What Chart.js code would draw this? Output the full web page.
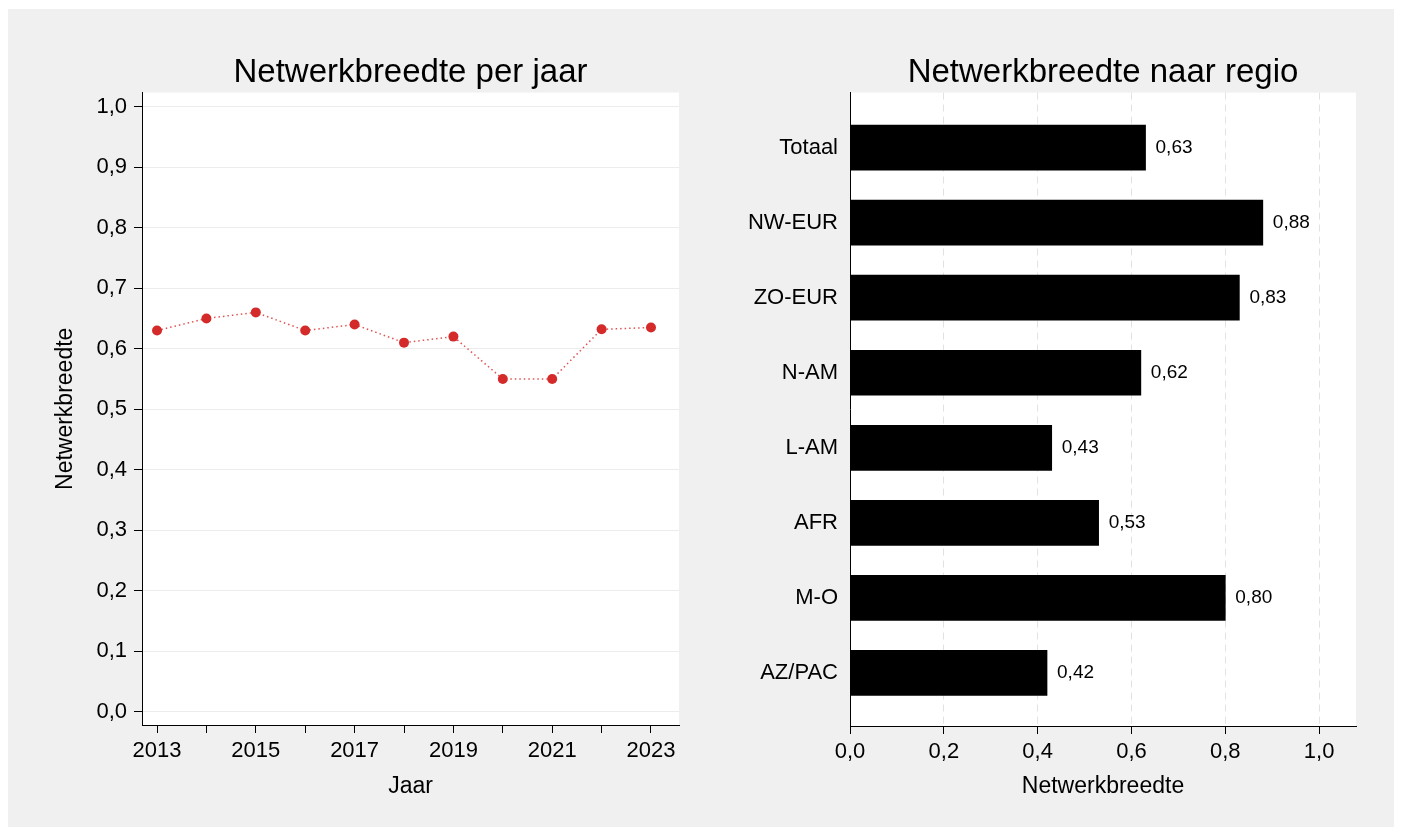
<!DOCTYPE html>
<html>
<head>
<meta charset="utf-8">
<script src="https://cdn.jsdelivr.net/npm/chart.js@4.4.1/dist/chart.umd.min.js"></script>
<style>
  body { margin: 0; background: #fff; }
  #paneel { position: absolute; left: 8px; top: 9px; width: 1386px; height: 818px; background: #f0f0f0; }
  canvas { position: absolute; top: 0; }
</style>
</head>
<body>
<div id="paneel">
  <canvas id="perJaar" width="690" height="818" style="left:0"></canvas>
  <canvas id="perRegio" width="696" height="818" style="left:690px"></canvas>
</div>
<script>
const jaren = [2013, 2014, 2015, 2016, 2017, 2018, 2019, 2020, 2021, 2022, 2023];
const breedtePerJaar = [0.63, 0.65, 0.66, 0.63, 0.64, 0.61, 0.62, 0.55, 0.55, 0.632, 0.635];
const yTicksJaar = [0, 0.1, 0.2, 0.3, 0.4, 0.5, 0.6, 0.7, 0.8, 0.9, 1.0];

const regios = ['Totaal', 'NW-EUR', 'ZO-EUR', 'N-AM', 'L-AM', 'AFR', 'M-O', 'AZ/PAC'];
const breedtePerRegio = [0.63, 0.88, 0.83, 0.62, 0.43, 0.53, 0.80, 0.42];
const xTicksRegio = [0, 0.2, 0.4, 0.6, 0.8, 1.0];

Chart.defaults.font.family = "'Liberation Sans', Arial, sans-serif";
Chart.defaults.color = '#000';

const komma = (v, d) => Number(v).toFixed(d).replace('.', ',');

// witte plotruimte
const witVlak = {
  id: 'witVlak',
  beforeDraw(chart) {
    const a = chart.chartArea, c = chart.ctx;
    c.save();
    c.fillStyle = '#fff';
    c.fillRect(a.left, a.top, a.right - a.left, a.bottom - a.top);
    c.restore();
  }
};

// waardes naast de balken
const waardeLabels = {
  id: 'waardeLabels',
  afterDatasetsDraw(chart) {
    const c = chart.ctx;
    const meta = chart.getDatasetMeta(0);
    c.save();
    c.font = "19px 'Liberation Sans', Arial, sans-serif";
    c.fillStyle = '#000';
    c.textBaseline = 'middle';
    meta.data.forEach((bar, i) => {
      c.fillText(komma(breedtePerRegio[i], 2), bar.x + 10, bar.y);
    });
    c.restore();
  }
};

new Chart(document.getElementById('perJaar'), {
  type: 'line',
  data: {
    datasets: [{
      data: jaren.map((j, i) => ({ x: j, y: breedtePerJaar[i] })),
      borderColor: 'rgba(214, 40, 40, 0.8)',
      borderWidth: 1.5,
      borderDash: [1.5, 3],
      pointRadius: 5,
      pointBackgroundColor: '#d42a2a',
      pointBorderWidth: 0
    }]
  },
  options: {
    responsive: false,
    animation: false,
    layout: { padding: { left: 0, right: 19, top: 0, bottom: 0 } },
    plugins: {
      legend: { display: false },
      tooltip: { enabled: false },
      title: {
        display: true,
        text: 'Netwerkbreedte per jaar',
        fullSize: false,
        font: { size: 33, weight: 'normal' },
        color: '#000',
        padding: { top: 44, bottom: 0 }
      }
    },
    scales: {
      x: {
        type: 'linear',
        min: 2012.696,
        max: 2023.567,
        afterBuildTicks: (ax) => { ax.ticks = jaren.map(v => ({ value: v })); },
        afterFit: (ax) => { ax.height = 102; },
        ticks: {
          autoSkip: false,
          maxRotation: 0,
          padding: 5,
          font: { size: 22 },
          callback: (v) => (v % 2 === 1 ? String(v) : '')
        },
        grid: { drawOnChartArea: false, tickColor: '#000', tickLength: 8 },
        border: { color: '#000', width: 1 },
        title: { display: true, text: 'Jaar', font: { size: 23 }, padding: { top: 0, bottom: 27 } }
      },
      y: {
        min: -0.0215,
        max: 1.023,
        afterBuildTicks: (ax) => { ax.ticks = yTicksJaar.map(v => ({ value: v })); },
        afterFit: (ax) => { ax.width = 134; },
        ticks: { padding: 7, font: { size: 22 }, callback: (v) => komma(v, 1) },
        grid: { color: '#ececec', tickColor: '#000', tickLength: 8 },
        border: { color: '#000', width: 1 },
        title: { display: true, text: 'Netwerkbreedte', font: { size: 23 }, padding: { top: 44, bottom: 0 } }
      }
    }
  },
  plugins: [witVlak]
});

new Chart(document.getElementById('perRegio'), {
  type: 'bar',
  data: {
    datasets: [{
      data: regios.map((r, i) => ({ x: breedtePerRegio[i], y: i })),
      backgroundColor: '#000',
      barThickness: 45
    }]
  },
  options: {
    indexAxis: 'y',
    responsive: false,
    animation: false,
    layout: { padding: { left: 0, right: 38, top: 0, bottom: 0 } },
    plugins: {
      legend: { display: false },
      tooltip: { enabled: false },
      title: {
        display: true,
        text: 'Netwerkbreedte naar regio',
        fullSize: false,
        font: { size: 33, weight: 'normal' },
        color: '#000',
        padding: { top: 44, bottom: 0 }
      }
    },
    scales: {
      x: {
        type: 'linear',
        min: 0,
        max: 1.0786,
        afterBuildTicks: (ax) => { ax.ticks = xTicksRegio.map(v => ({ value: v })); },
        afterFit: (ax) => { ax.height = 101; },
        ticks: { padding: 5, maxRotation: 0, font: { size: 22 }, callback: (v) => komma(v, 1) },
        grid: { color: '#e2e2e2', tickColor: '#000', tickLength: 8 },
        border: { color: '#000', width: 1, dash: [7, 5] },
        title: { display: true, text: 'Netwerkbreedte', font: { size: 23 }, padding: { top: 0, bottom: 27 } }
      },
      y: {
        type: 'linear',
        reverse: true,
        offset: false,
        min: -0.733,
        max: 7.707,
        afterBuildTicks: (ax) => { ax.ticks = regios.map((r, i) => ({ value: i })); },
        afterFit: (ax) => { ax.width = 152; },
        ticks: { padding: 12, font: { size: 22 }, callback: (v) => regios[v] },
        grid: { offset: false, drawOnChartArea: false, drawTicks: false },
        border: { color: '#000', width: 1 }
      }
    }
  },
  plugins: [witVlak, waardeLabels]
});
</script>
</body>
</html>
